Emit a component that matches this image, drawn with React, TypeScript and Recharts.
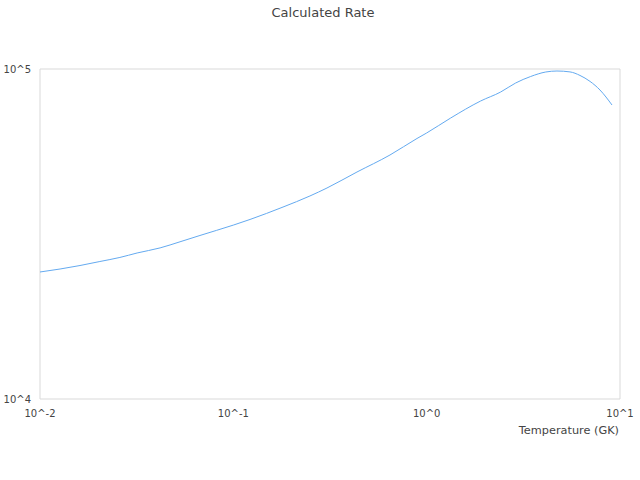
import { LineChart, Line, XAxis, YAxis, ReferenceArea } from "recharts";

const temperatures = [
  0.01, 0.0127, 0.0161, 0.0204, 0.0259, 0.0318, 0.0418, 0.053, 0.0672, 0.1,
  0.122, 0.1807, 0.249, 0.305, 0.436, 0.646, 0.891, 1.0, 1.331, 1.902, 2.414,
  2.886, 3.45, 4.13, 4.72, 5.51, 6.21, 7.0, 7.88, 9.09,
];
const rates = [
  24260, 24770, 25380, 26100, 26850, 27700, 28700, 29950, 31300, 33650, 35000,
  38170, 41230, 43590, 48730, 54880, 61580, 63990, 71040, 79990, 85170, 90700,
  94900, 97930, 98610, 98000, 95600, 91700, 86370, 77790,
];
const xTicks = [0.01, 0.1, 1, 10];
const yTicks = [10000, 100000];

const data = temperatures.map((t, i) => ({ t, rate: rates[i] }));

const font = "'DejaVu Sans', sans-serif";
const fmt = (v: number) => "10^" + Math.round(Math.log10(v));

export default function App() {
  return (
    <div style={{ position: "absolute", left: 0, top: 0, width: 640, height: 480, fontFamily: font }}>
      <div
        style={{
          position: "absolute",
          top: 5,
          left: 3,
          width: 640,
          textAlign: "center",
          fontSize: 13,
          lineHeight: "16px",
          color: "#444",
        }}
      >
        Calculated Rate
      </div>
      <LineChart
        width={640}
        height={480}
        data={data}
        margin={{ top: 69, right: 20, bottom: 51, left: 0 }}
      >
        <XAxis
          dataKey="t"
          type="number"
          scale="log"
          domain={[0.01, 10]}
          ticks={xTicks}
          tickFormatter={fmt}
          axisLine={false}
          tickLine={false}
          tickMargin={5}
          height={30}
          interval={0}
          tick={{ fontSize: 10, fill: "#444", fontFamily: font }}
        />
        <YAxis
          type="number"
          scale="log"
          domain={[10000, 100000]}
          ticks={yTicks}
          tickFormatter={fmt}
          axisLine={false}
          tickLine={false}
          tickMargin={3}
          width={40}
          interval={0}
          tick={{ fontSize: 10, fill: "#444", fontFamily: font }}
        />
        <ReferenceArea
          x1={0.01}
          x2={10}
          y1={10000}
          y2={100000}
          fill="none"
          stroke="#d9d9d9"
          strokeWidth={1}
        />
        <Line
          dataKey="rate"
          type="monotone"
          stroke="#64aaf0"
          strokeWidth={1}
          dot={false}
          isAnimationActive={false}
        />
      </LineChart>
      <div
        style={{
          position: "absolute",
          top: 424,
          right: 21,
          fontSize: 11.3,
          lineHeight: "13px",
          color: "#444",
        }}
      >
        Temperature (GK)
      </div>
    </div>
  );
}
